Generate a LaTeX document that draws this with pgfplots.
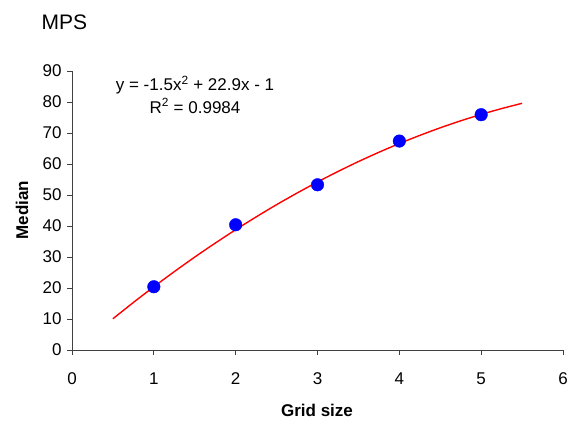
\documentclass[border=0pt]{standalone}
\usepackage{pgfplots}
\pgfplotsset{compat=1.18}
\usepackage{fontspec}
\setmainfont{Liberation Sans}
\begin{document}
\begin{tikzpicture}[x=1pt,y=1pt]
\path[use as bounding box] (0,0) rectangle (569,421);
\begin{axis}[
  at={(72pt,71pt)}, anchor=south west,
  scale only axis, width=491pt, height=279pt,
  xmin=0, xmax=6, ymin=0, ymax=90,
  xtick={0,1,...,6}, ytick={0,10,...,90},
  axis lines=left, axis line style={black!75, line width=1pt, -},
  tick align=outside, major tick length=5pt,
  tick style={black!75, line width=1pt},
  ticklabel style={font=\fontsize{17}{20}\selectfont},
  /pgf/number format/assume math mode=true,
  xticklabel style={yshift=-14pt},
  yticklabel style={xshift=-2pt},
  clip=false,
]
\addplot[red, line width=1.4pt, no marks, smooth] coordinates {
(0.5,10.08) (0.75,15.33) (1.0,20.40) (1.25,25.28) (1.5,29.98) (1.75,34.48)
(2.0,38.80) (2.25,42.93) (2.5,46.88) (2.75,50.63) (3.0,54.20) (3.25,57.58)
(3.5,60.78) (3.75,63.78) (4.0,66.60) (4.25,69.23) (4.5,71.68) (4.75,73.93)
(5.0,76.00) (5.25,77.88) (5.5,79.58)};
\addplot[only marks, mark=*, mark size=6.3pt, blue, mark options={fill=blue, draw=blue}] coordinates {
(1,20.4) (2,40.4) (3,53.3) (4,67.4) (5,75.9)};
\end{axis}
\node[anchor=west, font=\fontsize{21}{24}\selectfont] at (38,399) {MPS};
\node[font=\fontsize{17}{20}\selectfont] at (195,336) {y = -1.5x\textsuperscript{2} + 22.9x - 1};
\node[font=\fontsize{17}{20}\selectfont] at (195,315) {R\textsuperscript{2} = 0.9984};
\node[rotate=90, font=\fontsize{17}{20}\selectfont\bfseries] at (22,211) {Median};
\node[font=\fontsize{17}{20}\selectfont\bfseries] at (317,11) {Grid size};
\end{tikzpicture}
\end{document}
